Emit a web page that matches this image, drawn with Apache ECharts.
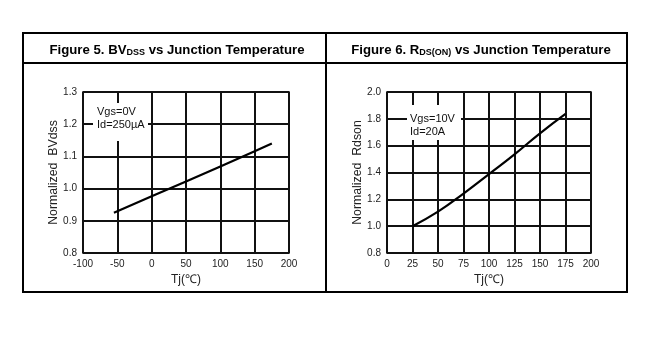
<!DOCTYPE html>
<html><head><meta charset="utf-8">
<script src="https://cdn.jsdelivr.net/npm/echarts@6/dist/echarts.min.js"></script>
<style>html,body{margin:0;padding:0;background:#fff}#c{width:656px;height:355px}</style>
</head><body><div id="c"></div>
<script>
// Figure 5: BVdss vs Tj
const tj5 = [-55, 0, 50, 100, 150, 175];
const bv5 = [0.925, 0.976, 1.022, 1.069, 1.116, 1.14];
// Figure 6: Rdson vs Tj
const tj6 = [25, 50, 75, 100, 125, 150, 175];
const rds6 = [1.0, 1.108, 1.243, 1.388, 1.535, 1.692, 1.837];
const xTicks5 = [-100, -50, 0, 50, 100, 150, 200];
const yTicks5 = [0.8, 0.9, 1.0, 1.1, 1.2, 1.3];
const xTicks6 = [0, 25, 50, 75, 100, 125, 150, 175, 200];
const yTicks6 = [0.8, 1.0, 1.2, 1.4, 1.6, 1.8, 2.0];

const chart = echarts.init(document.getElementById('c'));
const FF = 'Liberation Sans, Arial, sans-serif';
const lbl = {color: '#222', fontSize: 10, fontFamily: FF};
function xAx(idx, ticks, name) {
  return {
    type: 'value', gridIndex: idx, min: ticks[0], max: ticks[ticks.length-1],
    interval: ticks[1]-ticks[0], name: name, nameLocation: 'middle', nameGap: 21,
    nameTextStyle: {color: '#222', fontSize: 12, fontFamily: FF},
    axisLine: {show: false}, axisTick: {show: false},
    axisLabel: Object.assign({margin: 6}, lbl),
    splitLine: {show: true, lineStyle: {color: '#111', width: 2}}
  };
}
function yAx(idx, ticks, name) {
  return {
    type: 'value', gridIndex: idx, min: ticks[0], max: ticks[ticks.length-1],
    interval: +(ticks[1]-ticks[0]).toFixed(2), name: name, nameLocation: 'middle', nameGap: 22,
    nameTextStyle: {color: '#222', fontSize: 12.3, fontFamily: FF},
    axisLine: {show: false}, axisTick: {show: false},
    axisLabel: Object.assign({margin: 6, formatter: v => v.toFixed(1)}, lbl),
    splitLine: {show: true, lineStyle: {color: '#111', width: 2}}
  };
}
const titleStyle = {
  rich: {
    a: {fontSize: 13.2, fontWeight: 'bold', color: '#000', fontFamily: FF},
    s: {fontSize: 9, fontWeight: 'bold', color: '#000', fontFamily: FF, padding: [5, 0, 0, 0]}
  }
};
chart.setOption({
  animation: false,
  title: [
    {text: '{a|Figure 5. BV}{s|DSS}{a| vs Junction Temperature}', left: 172, top: 38, textAlign: 'center', textStyle: titleStyle},
    {text: '{a|Figure 6. R}{s|DS(ON)}{a| vs Junction Temperature}', left: 476, top: 38, textAlign: 'center', textStyle: titleStyle}
  ],
  grid: [
    {left: 83, top: 92, width: 206, height: 161, show: true, borderColor: '#000', borderWidth: 1.5},
    {left: 387, top: 92, width: 204, height: 161, show: true, borderColor: '#000', borderWidth: 1.5}
  ],
  xAxis: [xAx(0, xTicks5, 'Tj(℃)'), xAx(1, xTicks6, 'Tj(℃)')],
  yAxis: [yAx(0, yTicks5, 'Normalized  BVdss'), yAx(1, yTicks6, 'Normalized  Rdson')],
  series: [
    {type: 'line', xAxisIndex: 0, yAxisIndex: 0, data: tj5.map((x, i) => [x, bv5[i]]),
     symbol: 'none', lineStyle: {color: '#000', width: 2.2}, z: 5},
    {type: 'line', xAxisIndex: 1, yAxisIndex: 1, data: tj6.map((x, i) => [x, rds6[i]]),
     smooth: true, symbol: 'none', lineStyle: {color: '#000', width: 2.2}, z: 5}
  ],
  graphic: [
    {type: 'rect', shape: {x: 23, y: 33, width: 604, height: 259}, style: {fill: 'none', stroke: '#000', lineWidth: 2}, z: 100},
    {type: 'line', shape: {x1: 23, y1: 63, x2: 627, y2: 63}, style: {stroke: '#000', lineWidth: 2}, z: 100},
    {type: 'line', shape: {x1: 326, y1: 33, x2: 326, y2: 292}, style: {stroke: '#000', lineWidth: 2}, z: 100},
    {type: 'rect', shape: {x: 93, y: 103, width: 55, height: 38}, style: {fill: '#fff'}, z: 50},
    {type: 'text', x: 97, y: 105, style: {text: 'Vgs=0V\nId=250µA', fill: '#111', fontSize: 11, fontFamily: FF, lineHeight: 13, align: 'left'}, z: 60},
    {type: 'rect', shape: {x: 407, y: 105, width: 54, height: 35}, style: {fill: '#fff'}, z: 50},
    {type: 'text', x: 410, y: 112, style: {text: 'Vgs=10V\nId=20A', fill: '#111', fontSize: 11, fontFamily: FF, lineHeight: 13, align: 'left'}, z: 60}
  ]
});
</script></body></html>
